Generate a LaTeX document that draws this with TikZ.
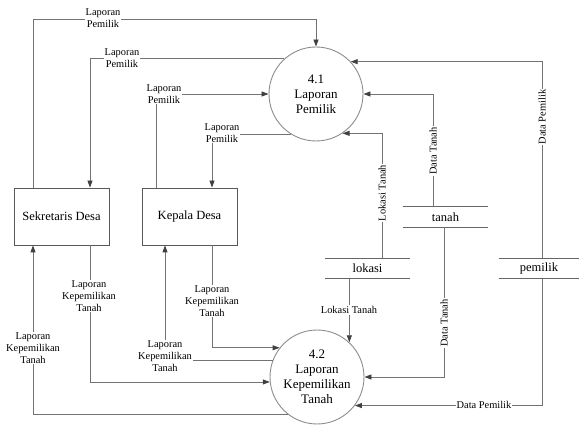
\documentclass[tikz,border=0pt]{standalone}
\usepackage{fontspec}
\setmainfont{Liberation Serif}
\usetikzlibrary{arrows.meta}
\begin{document}
\begin{tikzpicture}[x=1pt,y=-1pt,
  flow/.style={draw=black!55, line width=0.8pt,
    -{Triangle[length=7pt,width=5pt,color=black!75,fill=black!75]}},
  proc/.style={circle, draw=black!45, line width=0.9pt, minimum size=94pt,
    inner sep=0pt, align=center, font=\fontsize{13}{15}\selectfont},
  entity/.style={rectangle, draw=black!65, line width=0.8pt,
    minimum width=95pt, minimum height=57pt, font=\fontsize{12.5}{15}\selectfont},
  store/.style={minimum height=20pt, inner sep=0pt, font=\fontsize{12.5}{15}\selectfont},
  storeline/.style={draw=black!60, line width=0.8pt},
  lbl/.style={fill=white, inner sep=1pt, align=center, font=\fontsize{10.4}{12}\selectfont},
]
\useasboundingbox (0,0) rectangle (579,425);

% processes
\node[proc] (p41) at (316,94) {4.1\\Laporan\\Pemilik};
\node[proc] (p42) at (317,377) {4.2\\Laporan\\Kepemilikan\\Tanah};

% external entities
\node[entity] (sek) at (61.5,216.5) {Sekretaris Desa};
\node[entity] (kep) at (189.5,216.5) {Kepala Desa};

% data stores
\node[store, minimum width=85pt] (tanah) at (445.5,217) {tanah};
\node[store, minimum width=85pt] (lokasi) at (367.5,268.5) {lokasi};
\node[store, minimum width=80pt] (pemilik) at (539,268.5) {pemilik};
\foreach \s in {tanah,lokasi,pemilik}{
  \draw[storeline] (\s.north west) -- (\s.north east)
                   (\s.south west) -- (\s.south east);
}

% flows around 4.1
\coordinate (top1) at (33,19);
\draw[flow] (top1 |- sek.north) -- (top1) -| (p41.north);
\draw[flow] (p41.132) -| ([xshift=28.5pt]sek.north);
\draw[flow] ([xshift=-33.5pt]kep.north) |- (p41.west);
\draw[flow] (p41.238) -| ([xshift=22.5pt]kep.north);
\draw[flow] ([xshift=14.5pt]lokasi.north) |- (p41.-56);
\draw[flow] ([xshift=-12.5pt]tanah.north) |- (p41.east);
\draw[flow] ([xshift=3pt]pemilik.north) |- (p41.43);

% flows around 4.2
\draw[flow] (lokasi.south -| p42.47) -- (p42.47);
\draw[flow] ([xshift=-1.5pt]tanah.south) |- (p42.east);
\draw[flow] ([xshift=3pt]pemilik.south) |- (p42.-37);
\draw[flow] ([xshift=28.5pt]sek.south) |- (p42.186);
\draw[flow] ([xshift=22.5pt]kep.south) |- (p42.142);
\draw[flow] (p42.159) -| ([xshift=-24.5pt]kep.south);
\draw[flow] (p42.232) -| ([xshift=-28.5pt]sek.south);

% flow labels
\node[lbl] (l1) at (103,18) {Laporan\\Pemilik};
\node[lbl] (l2) at (122,58) {Laporan\\Pemilik};
\node[lbl] (l3) at (164,94) {Laporan\\Pemilik};
\node[lbl] (l4) at (222,133) {Laporan\\Pemilik};
\node[lbl, rotate=90] (l5) at (382,193) {Lokasi Tanah};
\node[lbl, rotate=90] (l6) at (433,151) {Data Tanah};
\node[lbl, rotate=90] (l7) at (542,117) {Data Pemilik};
\node[lbl] (l8) at (349,310) {Lokasi Tanah};
\node[lbl, rotate=90] (l9) at (444,323) {Data Tanah};
\node[lbl] (l10) at (484,405) {Data Pemilik};
\node[lbl] (l11) at (89,296) {Laporan\\Kepemilikan\\Tanah};
\node[lbl] (l12) at (212,301) {Laporan\\Kepemilikan\\Tanah};
\node[lbl] (l13) at (165,356) {Laporan\\Kepemilikan\\Tanah};
\node[lbl] (l14) at (33,348) {Laporan\\Kepemilikan\\Tanah};
\end{tikzpicture}
\end{document}
